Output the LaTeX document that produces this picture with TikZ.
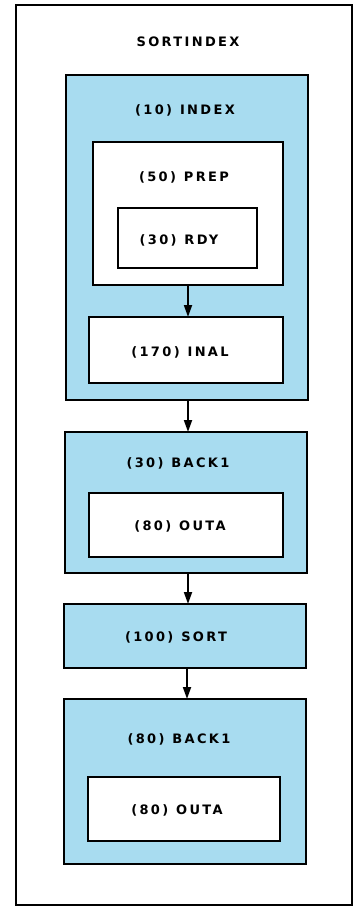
\documentclass[tikz,border=0pt]{standalone}
\usepackage{fontspec}
\setmainfont{DejaVu Sans}[LetterSpace=18]
\usetikzlibrary{arrows.meta,fit}
\definecolor{boxblue}{RGB}{168,220,240}
\tikzset{
  box/.style={draw=black, line width=1.7pt, inner sep=0pt, outer sep=0pt},
  bluebox/.style={box, fill=boxblue},
  whitebox/.style={box, fill=white},
  lbl/.style={font=\bfseries\fontsize{13}{15}\selectfont, inner sep=0pt, anchor=center},
  conn/.style={line width=1.8pt, -{Triangle[length=12pt,width=8pt]}},
}
\newcommand{\gap}{\ \hspace{1pt}}
\begin{document}
\begin{tikzpicture}[x=1pt,y=-1pt]
\useasboundingbox (0,0) rectangle (357,907);
\node[draw=black, line width=2pt, inner sep=0pt, fit={(16,5) (352,905)}] (frame) {};
\node[lbl] (title) at (188,42) {SORTINDEX};

\node[bluebox, fit={(66,75) (308,400)}] (index) {};
\node[lbl] (indexl) at (185,110) {(10)\gap INDEX};
\node[whitebox, fit={(93,142) (283,285)}] (prep) {};
\node[lbl] (prepl) at (184,177) {(50)\gap PREP};
\node[whitebox, fit={(118,208) (257,268)}] (rdy) {};
\node[lbl] (rdyl) at (179,240) {(30)\gap RDY};
\node[whitebox, fit={(89,317) (283,383)}] (inal) {};
\node[lbl] (inall) at (180,352) {(170)\gap INAL};

\node[bluebox, fit={(65,432) (307,573)}] (backa) {};
\node[lbl] (backal) at (178,463) {(30)\gap BACK1};
\node[whitebox, fit={(89,493) (283,557)}] (outaa) {};
\node[lbl] (outaal) at (180,526) {(80)\gap OUTA};

\node[bluebox, fit={(64,604) (306,668)}] (sort) {};
\node[lbl] (sortl) at (176,637) {(100)\gap SORT};

\node[bluebox, fit={(64,699) (306,864)}] (backb) {};
\node[lbl] (backbl) at (179,739) {(80)\gap BACK1};
\node[whitebox, fit={(88,777) (280,841)}] (outab) {};
\node[lbl] (outabl) at (177,810) {(80)\gap OUTA};

\coordinate (a1) at (188,285);
\draw[conn] (a1) -- (a1 |- inal.north);
\coordinate (a2) at (188,400);
\draw[conn] (a2) -- (a2 |- backa.north);
\coordinate (a3) at (188,573);
\draw[conn] (a3) -- (a3 |- sort.north);
\coordinate (a4) at (187,668);
\draw[conn] (a4) -- (a4 |- backb.north);
\end{tikzpicture}
\end{document}
